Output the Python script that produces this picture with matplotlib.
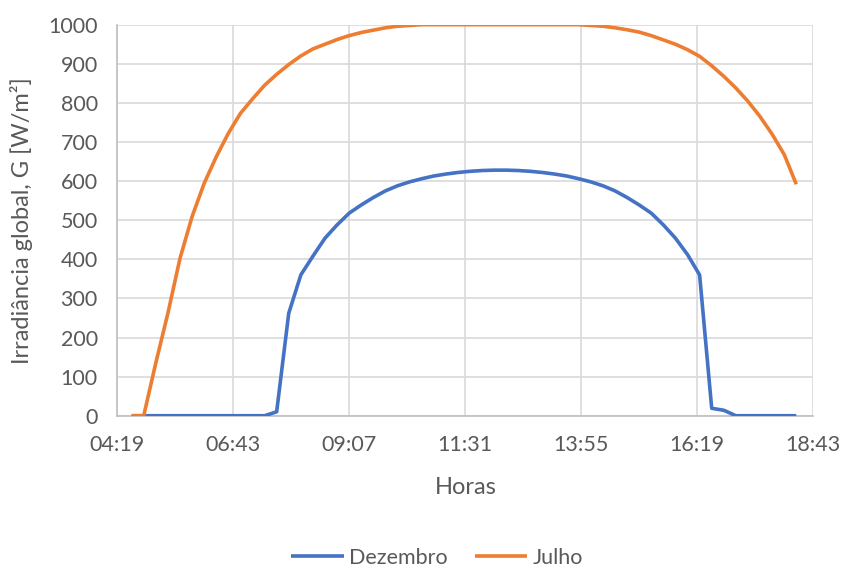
import numpy as np
import matplotlib
matplotlib.use("Agg")
import matplotlib.pyplot as plt

# time of first sample (minutes after midnight) and step between samples
start_min = 4 * 60 + 37
step_min = 15

dezembro = [0, 0, 0, 0, 0, 0, 0, 0, 0, 0, 0, 0, 10, 262, 360, 408,
            454, 488, 518, 539, 558, 575, 588, 598, 606, 613, 618, 622,
            625, 627, 628, 628, 627, 625, 622, 618, 613, 606, 598, 588,
            575, 558, 539, 518, 488, 454, 412, 360, 19, 14, 0, 0,
            0, 0, 0, 0]

julho = [0, 0, 135, 262, 402, 509, 594, 662, 722, 773, 810, 845,
         873, 898, 920, 938, 950, 962, 972, 980, 986, 992, 996, 998,
         1000, 1000, 1000, 1000, 1000, 1000, 1000, 1000, 1000, 1000, 1000, 1000,
         1000, 1000, 998, 996, 992, 987, 981, 972, 961, 950, 936, 919,
         895, 868, 838, 804, 765, 720, 668, 592]

xtick_days = [0.18, 0.28, 0.38, 0.48, 0.58, 0.68, 0.78]
xtick_labels = ["04:19", "06:43", "09:07", "11:31", "13:55", "16:19", "18:43"]
yticks = [0, 100, 200, 300, 400, 500, 600, 700, 800, 900, 1000]

plt.rcParams['font.family'] = ['Lato', 'DejaVu Sans']
txt = "#595959"

x = (start_min + step_min * np.arange(len(julho))) / 1440.0

fig = plt.figure(figsize=(8.42, 5.66), dpi=100)
ax = fig.add_axes([0.1393, 0.2655, 0.966 - 0.1393, 0.9564 - 0.2655])

ax.plot(x, dezembro, color="#4472C4", lw=2.6, label="Dezembro", solid_capstyle="butt", zorder=3)
ax.plot(x, julho, color="#ED7D31", lw=2.6, label="Julho", solid_capstyle="butt", zorder=3)

ax.set_xlim(0.18, 0.78)
ax.set_ylim(0, 1000)
ax.set_xticks(xtick_days)
ax.set_xticklabels(xtick_labels)
ax.set_yticks(yticks)

ax.grid(True, color="#d9d9d9", lw=1.2)
ax.set_axisbelow(True)
for s in ["top", "right"]:
    ax.spines[s].set_visible(False)
for s in ["left", "bottom"]:
    ax.spines[s].set_color("#bfbfbf")
    ax.spines[s].set_linewidth(1.2)
ax.tick_params(length=0, labelsize=15.5, colors=txt)
ax.tick_params(axis="x", pad=14)
ax.tick_params(axis="y", pad=14)

ax.set_xlabel("Horas", fontsize=17, color=txt, labelpad=16)
ax.set_ylabel("Irradiância global, G [W/m²]", fontsize=17, color=txt, labelpad=11)

fig.legend(loc="lower center", bbox_to_anchor=(0.519, -0.037), ncol=2, frameon=False,
           fontsize=15.5, handlelength=2.45, columnspacing=1.25, handletextpad=0.25,
           labelcolor=txt)

fig.savefig("out.png", dpi=100)
